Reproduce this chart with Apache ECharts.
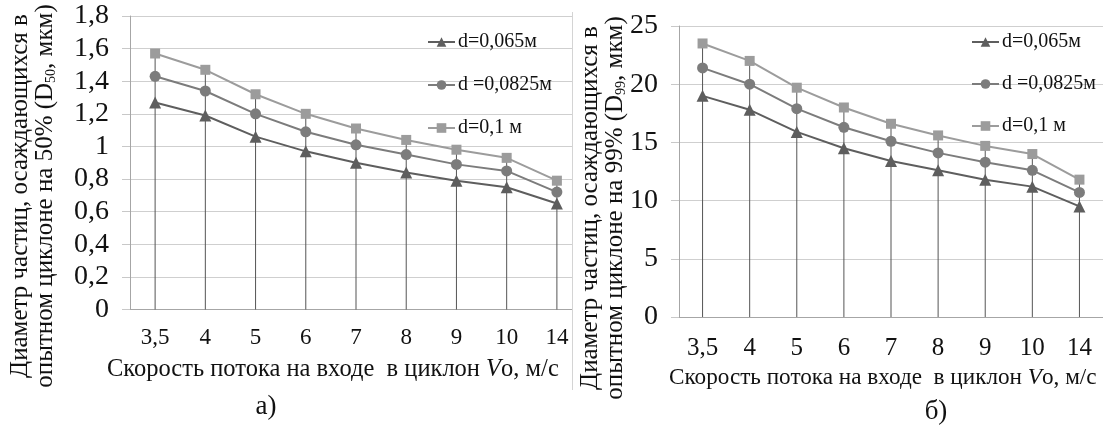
<!DOCTYPE html>
<html><head><meta charset="utf-8">
<script src="https://cdn.jsdelivr.net/npm/echarts@6/dist/echarts.min.js"></script>
<style>html,body{margin:0;padding:0;background:#fff}#c{width:1103px;height:432px}</style>
</head><body><div id="c"></div>
<script>
var categories = ['3,5','4','5','6','7','8','9','10','14'];
var seriesNames = ['d=0,065м','d =0,0825м','d=0,1 м'];
// Left chart: D50, мкм
var d50_065  = [1.27,1.19,1.06,0.97,0.90,0.84,0.79,0.75,0.65];
var d50_0825 = [1.43,1.34,1.20,1.09,1.01,0.95,0.89,0.85,0.72];
var d50_01   = [1.57,1.47,1.32,1.20,1.11,1.04,0.98,0.93,0.79];
// Right chart: D99, мкм
var d99_065  = [19.0,17.8,15.9,14.5,13.4,12.6,11.8,11.2,9.5];
var d99_0825 = [21.4,20.0,17.9,16.3,15.1,14.1,13.3,12.6,10.7];
var d99_01   = [23.5,22.0,19.7,18.0,16.6,15.6,14.7,14.0,11.8];
var leftTicks = [0,0.2,0.4,0.6,0.8,1,1.2,1.4,1.6,1.8];
var rightTicks = [0,5,10,15,20,25];

var FONT = 'Liberation Serif';
var colors = ['#5e5e5e','#7c7c7c','#9c9c9c'];
var symbols = ['triangle','circle','rect'];
var symSizes = [12,11,10];

var chart = echarts.init(document.getElementById('c'), null, {renderer:'canvas'});

function lineSeries(idx, data, gi){
  return {
    type:'line', name: seriesNames[idx], xAxisIndex: gi, yAxisIndex: gi,
    data: data, symbol: symbols[idx], symbolSize: symSizes[idx],
    lineStyle:{color:colors[idx], width:2}, itemStyle:{color:colors[idx]},
    z: 5, animation:false
  };
}
function dropSeries(data, gi){
  return {type:'bar', name:'drop', xAxisIndex: gi, yAxisIndex: gi, data:data,
    barWidth:1, itemStyle:{color:'#555'}, silent:true, z:3, animation:false};
}
function xAxis(gi, margin, fs){
  return {type:'category', gridIndex: gi, data: categories, boundaryGap:true,
    axisLine:{lineStyle:{color:'#a6a6a6', width:1}}, axisTick:{show:false},
    axisLabel:{fontFamily:FONT, fontSize:fs, color:'#111', margin:margin},
    splitLine:{show:false}};
}
function yAxis(gi, max, interval, fs, margin){
  return {type:'value', gridIndex: gi, min:0, max:max, interval:interval,
    axisLine:{show:true, lineStyle:{color:'#a6a6a6'}},
    axisTick:{show:true, length:8, lineStyle:{color:'#c8c8c8'}},
    axisLabel:{fontFamily:FONT, fontSize:fs, color:'#111', margin:margin,
      formatter:function(v){return String(Math.round(v*10)/10).replace('.',',');}},
    splitLine:{show:true, lineStyle:{color:'#cfcfcf', width:1}}};
}
function legend(left, top, gap){
  return {left:left, top:top, orient:'vertical', itemWidth:27, itemHeight:12, itemGap:gap,
    padding:0, data: seriesNames, selectedMode:false,
    textStyle:{fontFamily:FONT, fontSize:20, color:'#111', padding:[0,0,0,-2]}};
}
function vtitle(x, y, line1, pre, sub, post){
  return {type:'text', x:x, y:y, rotation:Math.PI/2, silent:true, z:50,
    style:{text: '{n|' + line1 + '}\n{n|' + pre + '}{s|' + sub + '}{n|' + post + '}',
      rich:{n:{fontFamily:FONT, fontSize:25, fill:'#111', lineHeight:25}, s:{fontFamily:FONT, fontSize:14, fill:'#111', verticalAlign:'bottom', lineHeight:25}},
      fontFamily:FONT, fontSize:25, fill:'#111', align:'center', verticalAlign:'middle'}};
}
function htitle(x, y, fs){
  return {type:'text', x:x, y:y, silent:true, z:50,
    style:{text:'{n|Скорость потока на входе  в циклон }{i|V}{n|о, м/с}',
      rich:{n:{fontFamily:FONT, fontSize:fs, fill:'#111'}, i:{fontFamily:FONT, fontSize:fs, fontStyle:'italic', fill:'#111'}},
      align:'left', verticalAlign:'middle'}};
}

var option = {
  backgroundColor:'#fff', animation:false,
  grid:[
    {left:130, top:16, width:452, height:293.5, containLabel:false},
    {left:679, top:26, width:432, height:291, containLabel:false}
  ],
  xAxis:[xAxis(0, 17, 23), xAxis(1, 19, 25)],
  yAxis:[yAxis(0, 1.8, 0.2, 28, 21), yAxis(1, 25, 5, 28, 21)],
  legend:[legend(427, 32, 23), legend(971, 32, 22)],
  series:[
    dropSeries(d50_01, 0),
    lineSeries(0, d50_065, 0), lineSeries(1, d50_0825, 0), lineSeries(2, d50_01, 0),
    dropSeries(d99_01, 1),
    lineSeries(0, d99_065, 1), lineSeries(1, d99_0825, 1), lineSeries(2, d99_01, 1)
  ],
  graphic:[
    {type:'rect', shape:{x:572.5, y:0, width:10, height:330}, style:{fill:'#fff'}, z:40, silent:true},
    {type:'line', shape:{x1:572.5, y1:12, x2:572.5, y2:390}, style:{stroke:'#d4d4d4', lineWidth:1}, z:41, silent:true},
    vtitle(33, 196, 'Диаметр частиц, осаждающихся в', 'опытном циклоне на 50% (D', '50', ', мкм)'),
    vtitle(603, 208, 'Диаметр частиц, осаждающихся в', 'опытном циклоне на 99% (D', '99', ', мкм)'),
    htitle(107, 370, 24.5),
    htitle(669, 378, 23.2),
    {type:'text', x:266, y:407, silent:true, style:{text:'а)', fontFamily:FONT, fontSize:27, fill:'#111', align:'center', verticalAlign:'middle'}},
    {type:'text', x:936, y:412, silent:true, style:{text:'б)', fontFamily:FONT, fontSize:27, fill:'#111', align:'center', verticalAlign:'middle'}}
  ]
};
chart.setOption(option);
</script></body></html>
